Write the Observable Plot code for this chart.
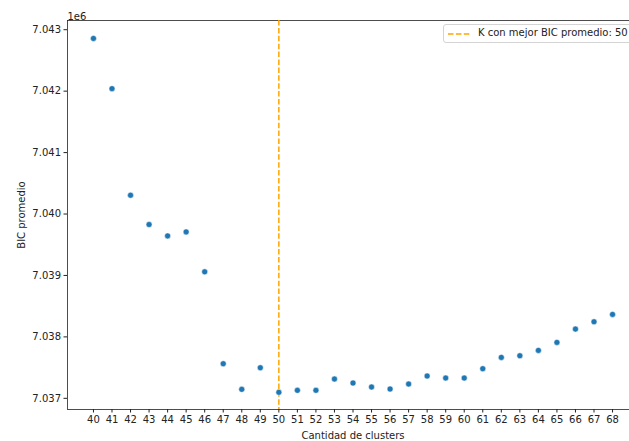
<!DOCTYPE html>
<html>
<head>
<meta charset="utf-8">
<script src="https://cdn.jsdelivr.net/npm/d3@7"></script>
<script src="https://cdn.jsdelivr.net/npm/@observablehq/plot@0.6"></script>
<style>
  html, body { margin: 0; padding: 0; background: white; overflow: hidden; }
  #wrap { position: relative; width: 629px; height: 441px; overflow: hidden; }
  #wrap > svg { max-width: none !important; height: 441px !important; width: 640px !important; display: block; }
  #legend {
    position: absolute; left: 443px; top: 24px; width: 195px; height: 19px;
    border: 1px solid #d4d4d4; border-radius: 3px; background: rgba(255,255,255,0.85);
    font-family: "DejaVu Sans", sans-serif; font-size: 10px; color: #222;
    box-sizing: border-box;
  }
  #legend svg { position: absolute; left: 3px; top: 3px; }
  #legend span { position: absolute; left: 34px; top: 2px; white-space: nowrap; }
</style>
</head>
<body>
<div id="wrap"></div>
<script>
const clusters = [40, 41, 42, 43, 44, 45, 46, 47, 48, 49, 50, 51, 52, 53, 54, 55, 56, 57, 58, 59, 60, 61, 62, 63, 64, 65, 66, 67, 68];
const bicPromedio = [
  7042858, 7042041, 7040306, 7039829, 7039644, 7039709, 7039059, 7037563, 7037146, 7037498,
  7037098, 7037130, 7037130, 7037314, 7037249, 7037184, 7037151, 7037233, 7037363, 7037330,
  7037330, 7037482, 7037666, 7037693, 7037780, 7037910, 7038127, 7038246, 7038366
];
const yTicks = [7037000, 7038000, 7039000, 7040000, 7041000, 7042000, 7043000];
const bestK = [50];
const legendLabel = "K con mejor BIC promedio: 50";

const data = clusters.map((k, i) => ({k, bic: bicPromedio[i]}));

const chart = Plot.plot({
  width: 640,
  height: 441,
  marginLeft: 67,
  marginRight: 2,
  marginTop: 20,
  marginBottom: 32,
  style: {fontFamily: "DejaVu Sans, sans-serif", fontSize: "10px", color: "#222", background: "white", maxWidth: "none"},
  x: {type: "linear", domain: [38.6, 69.4]},
  y: {domain: [7036818, 7043150]},
  marks: [
    Plot.frame({stroke: "#222", strokeWidth: 0.8}),
    Plot.axisX({ticks: clusters, tickFormat: d => String(d), tickSize: 3.5, tickPadding: 3, label: "Cantidad de clusters", labelAnchor: "center", labelArrow: "none", labelOffset: 29}),
    Plot.axisY({ticks: yTicks, tickFormat: d => (d / 1e6).toFixed(3), tickSize: 3.5, tickPadding: 3, label: "BIC promedio", labelAnchor: "center", labelArrow: "none", labelOffset: 50}),
    Plot.text(["1e6"], {frameAnchor: "top-left", dy: -8, textAnchor: "start", fontSize: 10}),
    Plot.ruleX(bestK, {stroke: "orange", strokeWidth: 1.5, strokeDasharray: "5.5,2.4"}),
    Plot.dot(data, {x: "k", y: "bic", r: 3, fill: "#1f77b4", stroke: "white", strokeWidth: 0.5})
  ]
});

const wrap = document.getElementById("wrap");
wrap.appendChild(chart);

const legend = document.createElement("div");
legend.id = "legend";
legend.innerHTML = `<svg width="28" height="12"><line x1="1" y1="6" x2="23" y2="6" stroke="orange" stroke-width="1.5" stroke-dasharray="5.5,2.4"/></svg><span></span>`;
legend.querySelector("span").textContent = legendLabel;
wrap.appendChild(legend);
</script>
</body>
</html>
